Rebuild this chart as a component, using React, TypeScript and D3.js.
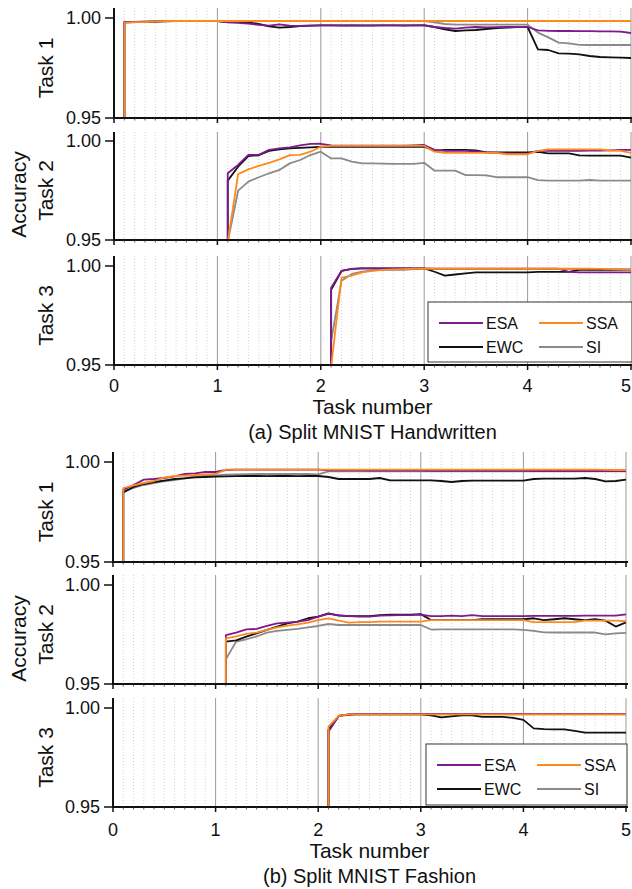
import React from "react";
import * as d3 from "d3";

const X_TICKS = [0, 1, 2, 3, 4, 5];
const Y_TICKS = [0.95, 1.0];
const METHODS = ["SI", "EWC", "ESA", "SSA"];
const LEGEND_ORDER = ["ESA", "SSA", "EWC", "SI"];
const TASK_LABELS = ["Task 1", "Task 2", "Task 3"];
const TASK_STARTS = [0.1, 1.1, 2.1];
const CAPTIONS = ["(a) Split MNIST Handwritten", "(b) Split MNIST Fashion"];

// Values sampled every 0.1 task units from each task's start. BASE = value the line rises from at the start.
const BASE = 0.949;

// ---- (a) Split MNIST Handwritten ----
const A_T1_ESA = [0.998, 0.998, 0.9982, 0.9983, 0.9985, 0.9985, 0.9986, 0.9986, 0.9986, 0.9985, 0.9978, 0.9976, 0.9972, 0.9966, 0.9962, 0.9968, 0.9962, 0.996, 0.9962, 0.9963, 0.9963, 0.9962, 0.9963, 0.9962, 0.9962, 0.9963, 0.9963, 0.9962, 0.9963, 0.9964, 0.9955, 0.995, 0.9947, 0.9952, 0.9955, 0.9953, 0.9954, 0.9955, 0.9956, 0.9955, 0.9938, 0.9936, 0.9935, 0.9935, 0.9934, 0.9934, 0.9933, 0.9933, 0.9932, 0.9925];
const A_T1_SSA = [0.9977, 0.9979, 0.998, 0.9983, 0.9985, 0.9985, 0.9985, 0.9985, 0.9985, 0.9985, 0.9985, 0.9985, 0.9985, 0.9985, 0.9985, 0.9985, 0.9985, 0.9985, 0.9985, 0.9985, 0.9985, 0.9985, 0.9985, 0.9985, 0.9985, 0.9985, 0.9985, 0.9985, 0.9985, 0.9985, 0.9985, 0.9985, 0.9985, 0.9985, 0.9985, 0.9985, 0.9985, 0.9985, 0.9985, 0.9985, 0.9985, 0.9985, 0.9985, 0.9985, 0.9985, 0.9985, 0.9985, 0.9985, 0.9985, 0.9985];
const A_T1_EWC = [0.9978, 0.998, 0.9981, 0.9982, 0.9983, 0.9984, 0.9985, 0.9985, 0.9985, 0.9985, 0.998, 0.998, 0.9978, 0.997, 0.9958, 0.9952, 0.9955, 0.996, 0.9962, 0.9963, 0.9963, 0.9963, 0.9963, 0.9963, 0.9963, 0.9963, 0.9963, 0.9963, 0.9963, 0.9963, 0.9955, 0.9943, 0.9935, 0.9938, 0.994, 0.9945, 0.995, 0.9952, 0.9955, 0.9955, 0.9843, 0.984, 0.9823, 0.9822, 0.9818, 0.981, 0.9805, 0.9803, 0.9802, 0.98];
const A_T1_SI = [0.9978, 0.998, 0.9982, 0.9983, 0.9984, 0.9985, 0.9985, 0.9985, 0.9985, 0.9985, 0.9984, 0.9984, 0.9984, 0.9984, 0.9984, 0.9984, 0.9984, 0.9984, 0.9984, 0.9984, 0.9984, 0.9984, 0.9984, 0.9984, 0.9984, 0.9984, 0.9984, 0.9984, 0.9984, 0.9985, 0.9978, 0.997, 0.9967, 0.9967, 0.9967, 0.9967, 0.9967, 0.9967, 0.9967, 0.9967, 0.9927, 0.9903, 0.9877, 0.9873, 0.9866, 0.9865, 0.9865, 0.9865, 0.9865, 0.9865];

const A_T2_ESA = [0.9837, 0.9879, 0.993, 0.993, 0.9955, 0.9963, 0.9968, 0.9978, 0.9985, 0.9986, 0.9978, 0.9976, 0.9976, 0.9977, 0.9976, 0.9976, 0.9977, 0.9977, 0.9978, 0.998, 0.9955, 0.995, 0.995, 0.995, 0.9948, 0.9943, 0.994, 0.9937, 0.9935, 0.9937, 0.995, 0.995, 0.995, 0.995, 0.995, 0.9952, 0.9952, 0.9953, 0.9955, 0.9955];
const A_T2_SSA = [0.949, 0.9833, 0.9857, 0.9874, 0.989, 0.9907, 0.9929, 0.993, 0.9946, 0.9971, 0.9975, 0.9975, 0.9975, 0.9975, 0.9975, 0.9975, 0.9975, 0.9975, 0.9975, 0.9975, 0.9946, 0.994, 0.994, 0.994, 0.994, 0.994, 0.994, 0.9933, 0.9933, 0.9933, 0.995, 0.9958, 0.9958, 0.9958, 0.9958, 0.9958, 0.9958, 0.9952, 0.995, 0.994];
const A_T2_EWC = [0.98, 0.987, 0.9924, 0.9928, 0.995, 0.9958, 0.9963, 0.9965, 0.9968, 0.997, 0.9971, 0.9971, 0.9971, 0.9971, 0.9971, 0.9971, 0.9971, 0.9971, 0.9971, 0.9971, 0.995, 0.9955, 0.9955, 0.9955, 0.9953, 0.9943, 0.9943, 0.9943, 0.9943, 0.9943, 0.9945, 0.9938, 0.9938, 0.9938, 0.9927, 0.9926, 0.9926, 0.9926, 0.9926, 0.9916];
const A_T2_SI = [0.949, 0.9749, 0.9795, 0.9817, 0.9837, 0.9854, 0.9887, 0.9904, 0.9929, 0.9946, 0.9912, 0.9912, 0.9896, 0.9887, 0.9887, 0.9886, 0.9884, 0.9884, 0.9884, 0.989, 0.985, 0.985, 0.985, 0.9828, 0.9828, 0.9826, 0.9817, 0.9817, 0.9817, 0.9817, 0.9802, 0.98, 0.98, 0.98, 0.98, 0.9803, 0.98, 0.98, 0.98, 0.98];

const A_T3_ESA = [0.989, 0.9975, 0.9985, 0.9988, 0.9988, 0.9988, 0.9988, 0.9988, 0.9988, 0.9988, 0.9987, 0.9987, 0.9987, 0.9987, 0.9987, 0.9987, 0.9987, 0.9987, 0.9987, 0.9987, 0.9987, 0.9987, 0.9987, 0.997, 0.9968, 0.9968, 0.9968, 0.9968, 0.9968, 0.9968];
const A_T3_SSA = [0.949, 0.9941, 0.9951, 0.9968, 0.9975, 0.998, 0.9983, 0.9984, 0.9986, 0.9986, 0.9986, 0.9986, 0.9986, 0.9986, 0.9986, 0.9986, 0.9986, 0.9986, 0.9986, 0.9986, 0.9986, 0.9986, 0.9986, 0.9986, 0.9986, 0.9986, 0.9985, 0.9984, 0.9982, 0.998];
const A_T3_EWC = [0.988, 0.9975, 0.9985, 0.9988, 0.9988, 0.9988, 0.9988, 0.9988, 0.9988, 0.9988, 0.9971, 0.9951, 0.9957, 0.9963, 0.9968, 0.9968, 0.9968, 0.9968, 0.9968, 0.9968, 0.997, 0.997, 0.997, 0.997, 0.998, 0.998, 0.998, 0.998, 0.998, 0.998];
const A_T3_SI = [0.962, 0.9925, 0.996, 0.9972, 0.9978, 0.998, 0.998, 0.998, 0.9984, 0.9984, 0.9984, 0.9984, 0.9984, 0.9984, 0.9984, 0.9984, 0.9984, 0.9984, 0.9984, 0.9984, 0.9984, 0.9984, 0.9984, 0.9984, 0.9984, 0.9984, 0.9984, 0.9984, 0.9984, 0.9984];

// ---- (b) Split MNIST Fashion ----
const B_T1_ESA = [0.986, 0.9885, 0.9912, 0.9915, 0.992, 0.9928, 0.994, 0.9943, 0.995, 0.995, 0.996, 0.9962, 0.9962, 0.9962, 0.9962, 0.9962, 0.9962, 0.9962, 0.9962, 0.9962, 0.9958, 0.9958, 0.9958, 0.9958, 0.9957, 0.9957, 0.9957, 0.9957, 0.9957, 0.9957, 0.9956, 0.9956, 0.9956, 0.9956, 0.9956, 0.9956, 0.9956, 0.9956, 0.9956, 0.9956, 0.9955, 0.9955, 0.9955, 0.9955, 0.9955, 0.9955, 0.9955, 0.9955, 0.9955, 0.9955];
const B_T1_SSA = [0.987, 0.9883, 0.9895, 0.9905, 0.9922, 0.993, 0.9932, 0.9935, 0.9938, 0.994, 0.9962, 0.9962, 0.9962, 0.9962, 0.9962, 0.9962, 0.9962, 0.9962, 0.9962, 0.9962, 0.9962, 0.9962, 0.9962, 0.9962, 0.9962, 0.9962, 0.9962, 0.9962, 0.9962, 0.9962, 0.9962, 0.9962, 0.9962, 0.9962, 0.9962, 0.9962, 0.9962, 0.9962, 0.9962, 0.9962, 0.9962, 0.9962, 0.9962, 0.9962, 0.9962, 0.9962, 0.9962, 0.9961, 0.996, 0.996];
const B_T1_EWC = [0.9848, 0.9875, 0.989, 0.99, 0.9907, 0.9915, 0.9918, 0.9923, 0.9925, 0.9927, 0.9928, 0.9929, 0.993, 0.993, 0.9929, 0.993, 0.993, 0.9929, 0.993, 0.993, 0.9925, 0.9915, 0.9915, 0.9915, 0.9915, 0.992, 0.9908, 0.9908, 0.9908, 0.9908, 0.9908, 0.9905, 0.99, 0.9905, 0.9907, 0.9907, 0.9907, 0.9907, 0.9907, 0.9907, 0.9915, 0.9917, 0.9917, 0.9917, 0.9917, 0.992, 0.9915, 0.9903, 0.9905, 0.9912];
const B_T1_SI = [0.985, 0.987, 0.9885, 0.9895, 0.9905, 0.991, 0.992, 0.9928, 0.993, 0.9933, 0.9937, 0.9938, 0.9939, 0.994, 0.994, 0.994, 0.994, 0.994, 0.994, 0.9938, 0.9953, 0.9953, 0.9953, 0.9953, 0.9953, 0.9953, 0.9953, 0.9953, 0.9953, 0.9953, 0.9953, 0.9953, 0.9953, 0.9953, 0.9953, 0.9953, 0.9953, 0.9953, 0.9953, 0.9953, 0.9953, 0.9953, 0.9953, 0.9953, 0.9953, 0.9953, 0.9953, 0.9953, 0.9953, 0.9953];

const B_T2_ESA = [0.9747, 0.9759, 0.9776, 0.9778, 0.9793, 0.9806, 0.981, 0.9815, 0.9823, 0.984, 0.9854, 0.9848, 0.9843, 0.984, 0.984, 0.9845, 0.9847, 0.9848, 0.9848, 0.985, 0.9843, 0.9843, 0.9845, 0.9843, 0.9848, 0.9843, 0.9843, 0.9843, 0.9843, 0.9843, 0.9844, 0.9844, 0.9844, 0.9844, 0.9844, 0.9845, 0.9845, 0.9845, 0.9845, 0.9852];
const B_T2_SSA = [0.9731, 0.974, 0.9753, 0.976, 0.9773, 0.9786, 0.9795, 0.9801, 0.981, 0.9823, 0.9832, 0.982, 0.981, 0.9812, 0.9812, 0.9815, 0.9815, 0.9815, 0.9815, 0.9815, 0.9823, 0.9823, 0.9823, 0.9823, 0.9823, 0.9823, 0.9823, 0.9823, 0.9823, 0.9823, 0.9813, 0.9813, 0.9813, 0.9813, 0.9813, 0.982, 0.982, 0.982, 0.982, 0.9817];
const B_T2_EWC = [0.9714, 0.972, 0.9739, 0.9756, 0.9773, 0.979, 0.9806, 0.9815, 0.9832, 0.984, 0.9857, 0.9845, 0.9843, 0.9843, 0.9843, 0.9848, 0.985, 0.985, 0.985, 0.9853, 0.9823, 0.9823, 0.9823, 0.9823, 0.9823, 0.9827, 0.9827, 0.9827, 0.9827, 0.9827, 0.9832, 0.9823, 0.9827, 0.9832, 0.9827, 0.9823, 0.9827, 0.982, 0.979, 0.9811];
const B_T2_SI = [0.9625, 0.9714, 0.9726, 0.974, 0.9759, 0.9768, 0.9773, 0.9778, 0.9786, 0.9793, 0.9803, 0.9798, 0.9798, 0.9798, 0.9798, 0.9798, 0.9798, 0.9798, 0.9798, 0.9798, 0.9775, 0.9776, 0.9776, 0.9776, 0.9776, 0.9776, 0.9776, 0.9776, 0.9776, 0.9773, 0.9768, 0.9761, 0.976, 0.976, 0.976, 0.976, 0.976, 0.9751, 0.9756, 0.9758];

const B_T3_ESA = [0.988, 0.996, 0.9965, 0.997, 0.997, 0.997, 0.997, 0.997, 0.997, 0.997, 0.997, 0.997, 0.997, 0.997, 0.997, 0.997, 0.997, 0.997, 0.997, 0.997, 0.997, 0.997, 0.997, 0.997, 0.997, 0.997, 0.997, 0.997, 0.997, 0.997];
const B_T3_SSA = [0.9906, 0.996, 0.9968, 0.9968, 0.9968, 0.9968, 0.9968, 0.9968, 0.9968, 0.9968, 0.9968, 0.9968, 0.9968, 0.9968, 0.9968, 0.9968, 0.9968, 0.9968, 0.9968, 0.9968, 0.9968, 0.9968, 0.9968, 0.9968, 0.9968, 0.9968, 0.9968, 0.9968, 0.9968, 0.9968];
const B_T3_EWC = [0.989, 0.996, 0.9968, 0.9968, 0.9968, 0.9968, 0.9968, 0.9968, 0.9968, 0.9968, 0.9963, 0.9953, 0.9958, 0.9963, 0.9963, 0.9955, 0.9955, 0.9955, 0.995, 0.994, 0.9897, 0.9893, 0.9892, 0.9892, 0.9885, 0.9876, 0.9876, 0.9876, 0.9876, 0.9876];
const B_T3_SI = [0.989, 0.996, 0.9968, 0.9968, 0.9968, 0.9968, 0.9968, 0.9968, 0.9968, 0.9968, 0.9968, 0.9968, 0.9968, 0.9968, 0.9968, 0.9968, 0.9968, 0.9968, 0.9968, 0.9968, 0.9968, 0.9968, 0.9968, 0.9968, 0.9968, 0.9968, 0.9968, 0.9968, 0.9968, 0.9968];

const FIG_A: Record<string, number[]>[] = [
  { ESA: A_T1_ESA, SSA: A_T1_SSA, EWC: A_T1_EWC, SI: A_T1_SI },
  { ESA: A_T2_ESA, SSA: A_T2_SSA, EWC: A_T2_EWC, SI: A_T2_SI },
  { ESA: A_T3_ESA, SSA: A_T3_SSA, EWC: A_T3_EWC, SI: A_T3_SI },
];
const FIG_B: Record<string, number[]>[] = [
  { ESA: B_T1_ESA, SSA: B_T1_SSA, EWC: B_T1_EWC, SI: B_T1_SI },
  { ESA: B_T2_ESA, SSA: B_T2_SSA, EWC: B_T2_EWC, SI: B_T2_SI },
  { ESA: B_T3_ESA, SSA: B_T3_SSA, EWC: B_T3_EWC, SI: B_T3_SI },
];

const COLORS: Record<string, string> = {
  ESA: "#7d1a8e",
  SSA: "#ff8a1c",
  EWC: "#111111",
  SI: "#8a8a8a",
};

const FONT = "'Liberation Sans', Arial, sans-serif";

type PanelGeom = { top: number; yHi: number; yLo: number };
type FigGeom = {
  x0: number;
  x1: number;
  panels: PanelGeom[];
  tickY: number;
  xTitleY: number;
  captionY: number;
  legend: { x: number; y: number; w: number; h: number };
};

const GEOM_A: FigGeom = {
  x0: 114,
  x1: 631,
  panels: [
    { top: 8, yHi: 18, yLo: 118 },
    { top: 132, yHi: 141, yLo: 240 },
    { top: 256, yHi: 266, yLo: 365 },
  ],
  tickY: 392,
  xTitleY: 414,
  captionY: 439,
  legend: { x: 428, y: 302, w: 204, h: 60 },
};
const GEOM_B: FigGeom = {
  x0: 113,
  x1: 626,
  panels: [
    { top: 452, yHi: 462, yLo: 562 },
    { top: 575, yHi: 585, yLo: 684 },
    { top: 698, yHi: 708, yLo: 807 },
  ],
  tickY: 836,
  xTitleY: 858,
  captionY: 883,
  legend: { x: 426, y: 744, w: 201, h: 61 },
};

const MINOR = d3.range(0, 50).map((i) => i / 10).filter((v) => Math.round(v * 10) % 10 !== 0);

function Figure({ geom, data, caption, id }: { geom: FigGeom; data: Record<string, number[]>[]; caption: string; id: string }) {
  const x = d3.scaleLinear().domain([0, 5]).range([geom.x0, geom.x1]);
  return (
    <g>
      {geom.panels.map((p, ti) => {
        const y = d3.scaleLinear().domain([0.95, 1.0]).range([p.yLo, p.yHi]);
        const clipId = `${id}-clip-${ti}`;
        const start = TASK_STARTS[ti];
        const line = d3
          .line<[number, number]>()
          .x((d) => x(d[0]))
          .y((d) => y(Math.max(d[1], 0.9485)));
        return (
          <g key={ti}>
            <defs>
              <clipPath id={clipId}>
                <rect x={geom.x0} y={p.top} width={geom.x1 - geom.x0 + 2} height={p.yLo - p.top} />
              </clipPath>
            </defs>
            {MINOR.map((v) => (
              <line key={v} x1={x(v)} x2={x(v)} y1={p.top} y2={p.yLo} stroke="#c8c8c8" strokeWidth={0.8} strokeDasharray="1,2" />
            ))}
            {X_TICKS.slice(1).map((v) => (
              <line key={v} x1={x(v)} x2={x(v)} y1={p.top} y2={p.yLo} stroke="#9a9a9a" strokeWidth={1} />
            ))}
            <g clipPath={`url(#${clipId})`}>
              {METHODS.map((m) => {
                const vals = data[ti][m];
                const pts: [number, number][] = [[start, BASE]];
                vals.forEach((v, i) => pts.push([start + i * 0.1, v]));
                return <path key={m} d={line(pts) || ""} fill="none" stroke={COLORS[m]} strokeWidth={1.8} strokeLinejoin="round" />;
              })}
            </g>
            {/* x axis */}
            <line x1={geom.x0 - 1} x2={geom.x1 + 2} y1={p.yLo} y2={p.yLo} stroke="#111" strokeWidth={2} />
            {MINOR.map((v) => (
              <line key={"t" + v} x1={x(v)} x2={x(v)} y1={p.yLo} y2={p.yLo + 2.5} stroke="#333" strokeWidth={0.8} />
            ))}
            {X_TICKS.map((v) => (
              <line key={"T" + v} x1={x(v)} x2={x(v)} y1={p.yLo} y2={p.yLo + 5} stroke="#111" strokeWidth={1.5} />
            ))}
            {/* y axis */}
            <line x1={geom.x0} x2={geom.x0} y1={p.top} y2={p.yLo + 1} stroke="#111" strokeWidth={2} />
            {Y_TICKS.map((v) => (
              <g key={v}>
                <line x1={geom.x0 - 9} x2={geom.x0} y1={y(v)} y2={y(v)} stroke="#111" strokeWidth={1.5} />
                <text x={geom.x0 - 13} y={y(v)} dy="0.36em" textAnchor="end" fontSize={18} fontFamily={FONT} fill="#111">
                  {d3.format(".2f")(v)}
                </text>
              </g>
            ))}
            <text
              transform={`translate(${53},${(p.yHi + p.yLo) / 2}) rotate(-90)`}
              textAnchor="middle"
              fontSize={21}
              fontFamily={FONT}
              fill="#111"
            >
              {TASK_LABELS[ti]}
            </text>
            {ti === 1 && (
              <text
                transform={`translate(${26},${(p.yHi + p.yLo) / 2 + 4}) rotate(-90)`}
                textAnchor="middle"
                fontSize={21}
                fontFamily={FONT}
                fill="#111"
              >
                Accuracy
              </text>
            )}
          </g>
        );
      })}
      {X_TICKS.map((v, i) => {
        const last = i === X_TICKS.length - 1;
        return (
          <text
            key={v}
            x={last ? Math.min(x(v) + 5, 631) : x(v)}
            y={geom.tickY}
            textAnchor={last ? "end" : "middle"}
            fontSize={18}
            fontFamily={FONT}
            fill="#111"
          >
            {v}
          </text>
        );
      })}
      <text x={(geom.x0 + geom.x1) / 2} y={geom.xTitleY} textAnchor="middle" fontSize={21} fontFamily={FONT} fill="#111">
        Task number
      </text>
      <text x={(geom.x0 + geom.x1) / 2} y={geom.captionY} textAnchor="middle" fontSize={20} fontFamily={FONT} fill="#111">
        {caption}
      </text>
      <g transform={`translate(${geom.legend.x},${geom.legend.y})`}>
        <rect x={0} y={0} width={geom.legend.w} height={geom.legend.h} fill="#fff" stroke="#333" strokeWidth={1} />
        {LEGEND_ORDER.map((m, i) => {
          const col = i % 2;
          const row = Math.floor(i / 2);
          const lx = 11 + col * 100;
          const ly = 21 + row * 24;
          return (
            <g key={m}>
              <line x1={lx} x2={lx + 44} y1={ly} y2={ly} stroke={COLORS[m]} strokeWidth={2} />
              <text x={lx + 47} y={ly} dy="0.36em" fontSize={16} fontFamily={FONT} fill="#111">
                {m}
              </text>
            </g>
          );
        })}
      </g>
    </g>
  );
}

export default function App() {
  return (
    <svg width={632} height={889} style={{ position: "absolute", left: 0, top: 0, background: "#fff" }}>
      <rect x={0} y={0} width={632} height={889} fill="#fff" />
      <Figure geom={GEOM_A} data={FIG_A} caption={CAPTIONS[0]} id="a" />
      <Figure geom={GEOM_B} data={FIG_B} caption={CAPTIONS[1]} id="b" />
    </svg>
  );
}
